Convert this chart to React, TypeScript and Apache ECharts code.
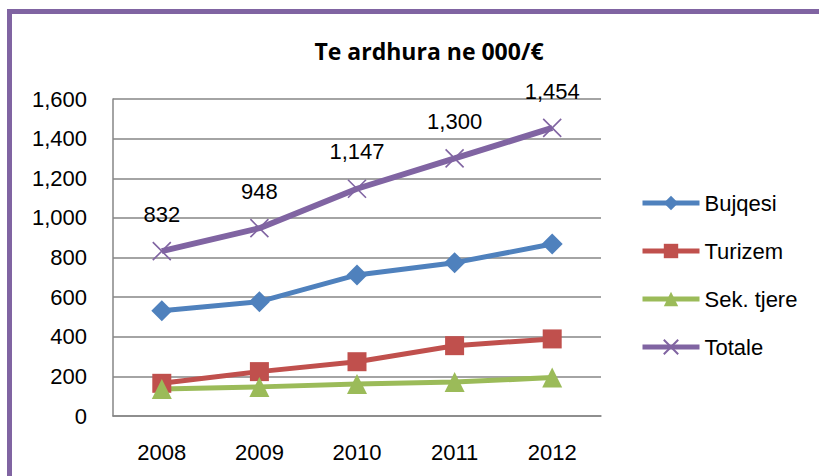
import React, { useEffect, useRef } from "react";
import * as echarts from "echarts";

const years = ["2008", "2009", "2010", "2011", "2012"];
const bujqesi = [531, 577, 712, 774, 868];
const turizem = [165, 224, 274, 355, 389];
const sekTjere = [136, 147, 161, 171, 194];
const totale = [832, 948, 1147, 1300, 1454];
const seriesNames = ["Bujqesi", "Turizem", "Sek. tjere", "Totale"];
const titleText = "Te ardhura ne 000/€";

const FONT = "'Liberation Sans', Arial, sans-serif";
const fmt = (v: number) => Number(v).toLocaleString("en-US");

export default function App() {
  const ref = useRef<HTMLDivElement>(null);
  useEffect(() => {
    document.body.style.margin = "0";
    const chart = echarts.init(ref.current!, null, { renderer: "svg" });
    const mk = (name: string, data: number[], color: string, symbol: string, size: number, width: number, extra: any = {}) => ({
      name,
      type: "line",
      data,
      symbol,
      symbolSize: size,
      lineStyle: { color, width },
      itemStyle: { color },
      ...extra,
    });
    chart.setOption({
      animation: false,
      backgroundColor: "#ffffff",
      textStyle: { fontFamily: FONT },
      title: {
        text: titleText,
        left: 424,
        top: 34,
        textAlign: "center",
        textStyle: { fontFamily: "'Open Sans', sans-serif", fontSize: 23, fontWeight: "bold", color: "#000" },
      },
      graphic: [
        {
          type: "rect",
          shape: { x: 9.5, y: 11.5, width: 900, height: 600 },
          style: { fill: "none", stroke: "#8064A2", lineWidth: 5 },
          silent: true,
        },
      ],
      legend: {
        orient: "vertical",
        left: 640,
        top: 192,
        itemWidth: 57,
        itemHeight: 18,
        itemGap: 26,
        padding: 0,
        data: seriesNames,
        lineStyle: { width: 5 },
        textStyle: { fontFamily: FONT, fontSize: 22, color: "#000" },
      },
      grid: { left: 113, right: 218, top: 99, bottom: 60, containLabel: false },
      xAxis: {
        type: "category",
        data: years,
        boundaryGap: true,
        axisLine: { lineStyle: { color: "#868686", width: 1.5 } },
        axisTick: { show: false },
        axisLabel: { fontFamily: FONT, fontSize: 22, color: "#000", margin: 25 },
      },
      yAxis: {
        type: "value",
        min: 0,
        max: 1600,
        interval: 200,
        axisLine: { show: true, lineStyle: { color: "#868686", width: 1.5 } },
        axisTick: { show: false },
        splitLine: { lineStyle: { color: "#868686", width: 1.5 } },
        axisLabel: { fontFamily: FONT, fontSize: 22, color: "#000", margin: 26, formatter: fmt },
      },
      series: [
        mk(seriesNames[0], bujqesi, "#4F81BD", "diamond", 21, 5),
        mk(seriesNames[1], turizem, "#C0504D", "rect", 19, 5),
        mk(seriesNames[2], sekTjere, "#9BBB59", "triangle", 20, 5),
        mk(seriesNames[3], totale, "#8064A2", "path://M0 0L10 10M10 0L0 10", 18, 6, {
          itemStyle: { color: "#8064A2", borderColor: "#8064A2", borderWidth: 1.6 },
          label: {
            show: true,
            position: "top",
            distance: 16,
            formatter: (p: any) => fmt(p.value),
            fontFamily: FONT,
            fontSize: 22,
            color: "#000",
          },
        }),
      ],
    });
    return () => chart.dispose();
  }, []);
  return <div ref={ref} style={{ position: "fixed", left: 0, top: 0, width: 819, height: 476 }} />;
}
